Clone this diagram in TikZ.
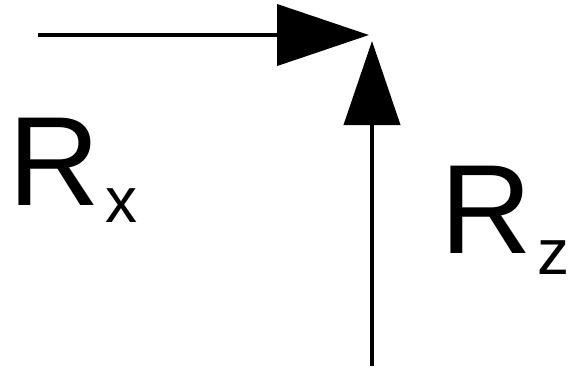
\documentclass[tikz,border=0pt]{standalone}
\usepackage{fontspec}
\setmainfont{Liberation Sans}
\usetikzlibrary{arrows.meta,positioning}

\begin{document}
\begin{tikzpicture}[x=1pt,y=-1pt]
	\useasboundingbox (0,0) rectangle (569,368);
	\tikzset{force/.style={line width=4pt,-{Triangle[length=92pt,width=61pt]}},
		forcelabel/.style={inner sep=0pt,anchor=base west,font=\fontsize{127}{127}\selectfont}}
		\coordinate (hstart) at (38,35);
		\coordinate (htip) at (369,35);
		\coordinate (vstart) at (372,366);
		\coordinate (vtip) at (372,41);
		\draw[force] (hstart) -- (htip);
		\draw[force,-{Triangle[length=84pt,width=56pt]}] (vstart) -- (vtip);
		\node[forcelabel] (rx) at (8,205) {R\hspace{6pt}\raisebox{-17pt}{\fontsize{64}{64}\selectfont x}};
		\node[forcelabel] (rz) at (440,253) {R\hspace{6pt}\raisebox{-21pt}{\fontsize{64}{64}\selectfont z}};
\end{tikzpicture}
\end{document}
